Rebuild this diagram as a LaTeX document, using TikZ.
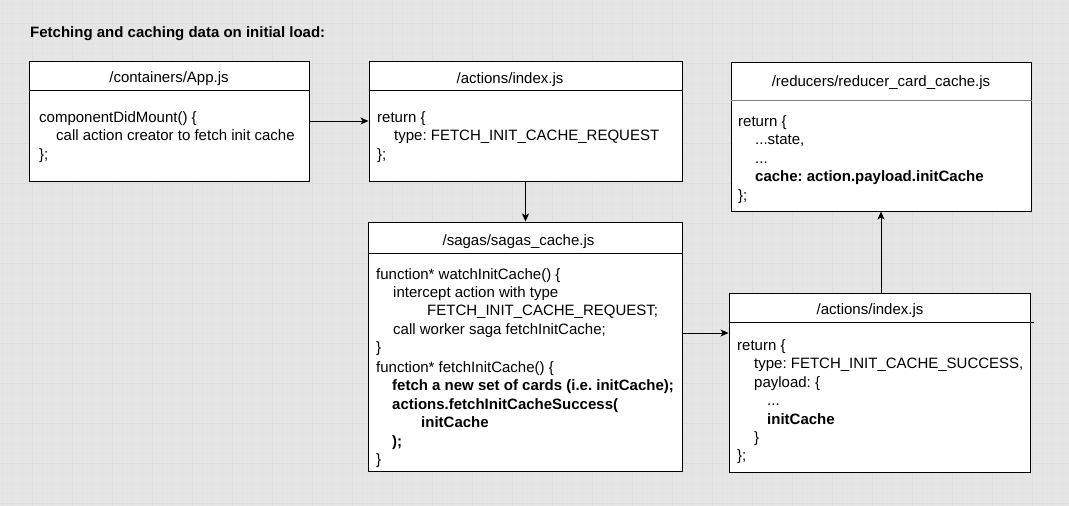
\documentclass[tikz,border=0pt]{standalone}
\usepackage{fontspec}
\setmainfont{Liberation Sans}
\usetikzlibrary{arrows.meta}
\definecolor{bg}{HTML}{E5E5E5}
\definecolor{gminor}{HTML}{E2E2E2}
\definecolor{gmajor}{HTML}{DDDDDD}
\definecolor{divgray}{HTML}{808080}
\frenchspacing
\begin{document}
\begin{tikzpicture}[x=1pt,y=-1pt,
  box/.style={draw=black,fill=white,line width=1pt,inner sep=0pt,rectangle},
  hdr/.style={font=\fontsize{15}{18}\selectfont,inner sep=0pt,anchor=center},
  body/.style={font=\fontsize{15}{18.4}\selectfont,inner sep=0pt,align=left,anchor=north west},
  divider/.style={line width=1pt,draw=black},
  arr/.style={line width=1pt,-{Stealth[length=8pt,width=7pt,inset=2pt]}}
]
\fill[bg] (0,0) rectangle (1069,506);
\useasboundingbox (0,0) rectangle (1069,506);
\foreach \x in {2,12,...,1062} \draw[gminor,line width=0.6pt] (\x,0) -- (\x,506);
\foreach \y in {3,13,...,503} \draw[gminor,line width=0.6pt] (0,\y) -- (1069,\y);
\foreach \x in {32,72,...,1052} \draw[gmajor,line width=0.8pt] (\x,0) -- (\x,506);
\foreach \y in {23,63,...,503} \draw[gmajor,line width=0.8pt] (0,\y) -- (1069,\y);

\node[anchor=base west,inner sep=0pt,font=\fontsize{15}{18}\selectfont\bfseries] (title) at (30,37) {Fetching and caching data on initial load:};

% boxes
\node[box,minimum width=280pt,minimum height=120pt] (b1) at (169,121) {};
\node[box,minimum width=313pt,minimum height=120pt] (b2) at (525.5,121) {};
\node[box,minimum width=300pt,minimum height=149pt] (b3) at (881,136.5) {};
\node[box,minimum width=314pt,minimum height=249pt] (b4) at (525,346.5) {};
\node[box,minimum width=301pt,minimum height=179pt] (b5) at (879.5,382.5) {};

% dividers
\draw[divider] ([yshift=-30pt]b1.north west) -- ([yshift=-30pt]b1.north east);
\draw[divider] ([yshift=-30pt]b2.north west) -- ([yshift=-30pt]b2.north east);
\draw[divider,draw=divgray,line width=1.5pt] ([yshift=-39pt]b3.north west) -- ([yshift=-39pt]b3.north east);
\draw[divider] ([yshift=-32pt]b4.north west) -- ([yshift=-32pt]b4.north east);
\draw[divider] ([yshift=-30pt]b5.north west) -- ([yshift=-30pt,xshift=3pt]b5.north east);

% headers
\node[hdr] (h1) at (169,78.5) {/containers/App.js};
\node[hdr] (h2) at (510,79.5) {/actions/index.js};
\node[hdr] (h3) at (881,82.5) {/reducers/reducer\_card\_cache.js};
\node[hdr] (h4) at (518.5,241.5) {/sagas/sagas\_cache.js};
\node[hdr] (h5) at (870,310.5) {/actions/index.js};

% bodies
\node[body] (t1) at (39,111.5) {componentDidMount() \{\\
\hspace*{17pt}call action creator to fetch init cache\\
\};};
\node[body] (t2) at (377,111.5) {return \{\\
\hspace*{17pt}type: FETCH\_INIT\_CACHE\_REQUEST\\
\};};
\node[body] (t3) at (738,115.5) {return \{\\
\hspace*{17pt}...state,\\
\hspace*{17pt}...\\
\hspace*{17pt}\textbf{cache: action.payload.initCache}\\
\};};
\node[body] (t4) at (376,268) {function* watchInitCache() \{\\
\hspace*{17pt}intercept action with type\\
\hspace*{51pt}FETCH\_INIT\_CACHE\_REQUEST;\\
\hspace*{17pt}call worker saga fetchInitCache;\\
\}\\[1.5pt]
function* fetchInitCache() \{\\
\hspace*{16pt}\textbf{fetch a new set of cards (i.e. initCache);}\\
\hspace*{16pt}\textbf{actions.fetchInitCacheSuccess(}\\
\hspace*{45pt}\textbf{initCache}\\
\hspace*{16pt}\textbf{);}\\
\}};
\node[body] (t5) at (737,339.5) {return \{\\
\hspace*{17pt}type: FETCH\_INIT\_CACHE\_SUCCESS,\\
\hspace*{17pt}payload: \{\\
\hspace*{30pt}...\\
\hspace*{30pt}\textbf{initCache}\\
\hspace*{17pt}\}\\
\};};

% connectors
\coordinate (m45) at (700,333);
\draw[arr] (b1.east) -- (b2.west);
\draw[arr] (b2.south) -- (b2.south |- b4.north);
\draw[arr] (b4.east |- m45) -- (b5.west |- m45);
\draw[arr] (b5.north -| b3.south) -- (b3.south);
\end{tikzpicture}
\end{document}
